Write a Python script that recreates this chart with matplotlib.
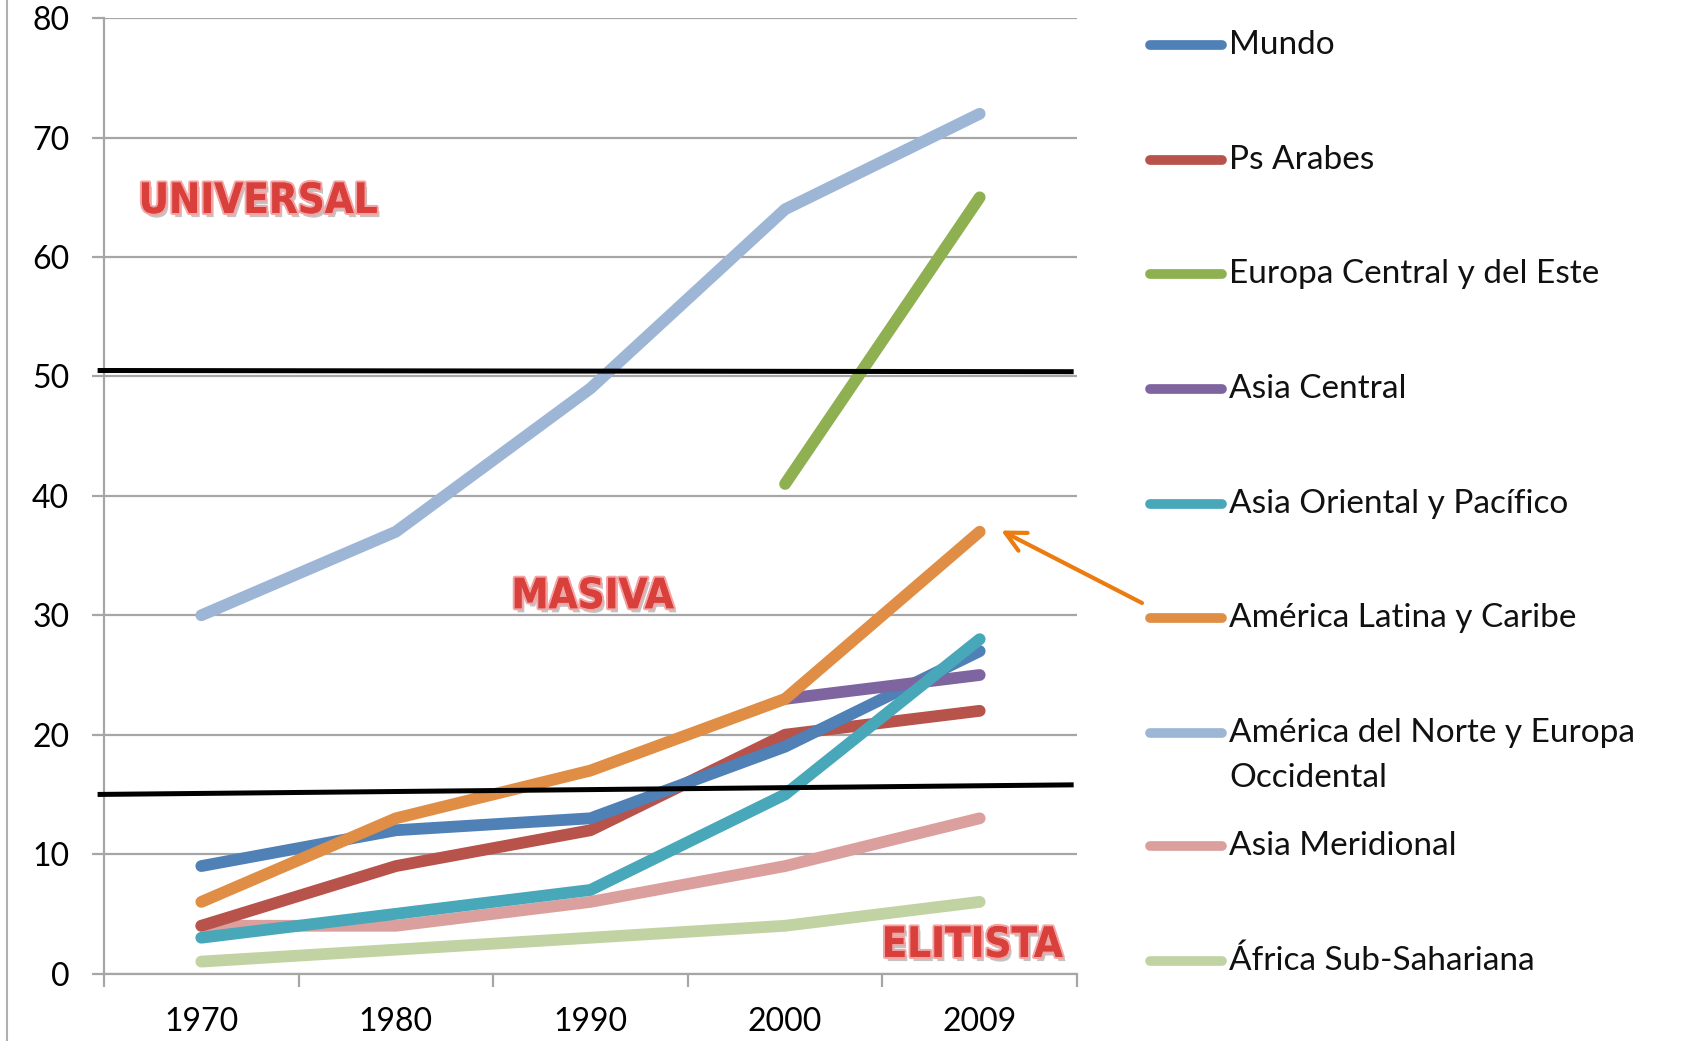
import numpy as np
import matplotlib
matplotlib.use("Agg")
import matplotlib.pyplot as plt
import matplotlib.patheffects as pe
from matplotlib.lines import Line2D

plt.rcParams['font.family'] = ['Lato', 'DejaVu Sans']

years = ['1970', '1980', '1990', '2000', '2009']

mundo = [9, 12, 13, 19, 27]
ps_arabes = [4, 9, 12, 20, 22]
europa_central = [None, None, None, 41, 65]
asia_central = [None, None, None, 23, 25]
asia_oriental = [3, 5, 7, 15, 28]
america_latina = [6, 13, 17, 23, 37]
america_norte = [30, 37, 49, 64, 72]
asia_meridional = [4, 4, 6, 9, 13]
africa = [1, 2, 3, 4, 6]

series = [
    ('Mundo', mundo, '#4f80b6'),
    ('Ps Arabes', ps_arabes, '#b8534b'),
    ('Europa Central y del Este', europa_central, '#8fb050'),
    ('Asia Central', asia_central, '#7f65a0'),
    ('Asia Oriental y Pacífico', asia_oriental, '#48a7b8'),
    ('América Latina y Caribe', america_latina, '#e08e45'),
    ('América del Norte y Europa\nOccidental', america_norte, '#9db6d6'),
    ('Asia Meridional', asia_meridional, '#dba09d'),
    ('África Sub-Sahariana', africa, '#c2d3a3'),
]

# threshold lines (start, end values)
umbral_universal = [50.5, 50.4]
umbral_masiva = [15.0, 15.8]

labels = [('UNIVERSAL', 0.29, 64.7), ('MASIVA', 2.01, 31.6), ('ELITISTA', 3.96, 2.4)]

W, H = 1683, 1041
fig = plt.figure(figsize=(W / 100, H / 100), dpi=100)
ax = fig.add_axes([104 / W, 0.0648, (1077 - 104) / W, 0.9177])

x = np.arange(len(years))
# drawing order so that the crossings look like the original
order = [6, 2, 7, 8, 1, 0, 3, 4, 5]
for i in order:
    name, vals, col = series[i]
    v = np.array([np.nan if a is None else a for a in vals], dtype=float)
    ax.plot(x, v, color=col, lw=8.5, solid_capstyle='round', solid_joinstyle='round', zorder=3)

ax.plot([-0.52, 4.47], umbral_universal, color='black', lw=3.6, zorder=4, clip_on=False)
ax.plot([-0.52, 4.47], umbral_masiva, color='black', lw=3.6, zorder=4, clip_on=False)

ax.set_xlim(-0.5, 4.5)
ax.set_ylim(0, 80)
ax.set_yticks(np.arange(0, 81, 10))
ax.set_xticks(x)
ax.set_xticklabels(years)
ax.set_xticks(np.arange(-0.5, 4.6, 1), minor=True)
ax.grid(axis='y', color='#a6a6a6', lw=1.6, zorder=0)
ax.tick_params(axis='y', length=9, width=1.6, color='#a6a6a6', pad=16, labelsize=23)
ax.tick_params(axis='x', which='major', length=0, pad=24, labelsize=23)
ax.tick_params(axis='x', which='minor', length=9, width=1.6, color='#a6a6a6')
for s in ['top', 'right']:
    ax.spines[s].set_visible(False)
for s in ['left', 'bottom']:
    ax.spines[s].set_color('#a6a6a6')
    ax.spines[s].set_linewidth(1.6)

for txt, tx, ty in labels:
    ax.text(tx, ty, txt, ha='center', va='center', fontsize=30, fontweight='bold',
            fontstretch='condensed', family=['DejaVu Sans'], color='#d9403c', zorder=6,
            path_effects=[pe.SimplePatchShadow(offset=(2, -3), shadow_rgbFace='#888888', alpha=0.5),
                          pe.withStroke(linewidth=3, foreground='#f2a3a3'),
                          pe.Normal()])

# arrow pointing at America Latina 2009
ax.annotate('', xy=(4.11, 37.1), xycoords='data',
            xytext=(1142 / W, 1 - 603 / H), textcoords='figure fraction',
            arrowprops=dict(arrowstyle='->', color='#ec7c0f', lw=3, mutation_scale=36,
                            shrinkA=0, shrinkB=0))

# legend drawn at the right
rows = [45, 160, 274, 389, 504, 618, 733, 846, 961]
for (name, vals, col), ry in zip(series, rows):
    yf = 1 - ry / H
    fig.add_artist(Line2D([1150 / W, 1222 / W], [yf, yf], color=col, lw=7,
                          solid_capstyle='round', transform=fig.transFigure))
    for k, part in enumerate(name.split('\n')):
        fig.text(1229 / W, yf - k * 45 / H, part, fontsize=24, va='center', ha='left',
                 color='#111111')

# left border of the slide
fig.add_artist(Line2D([7.5 / W, 7.5 / W], [0, 1], color='#b0b0b0', lw=1.5,
                      transform=fig.transFigure))

fig.savefig('out.png', dpi=100)
